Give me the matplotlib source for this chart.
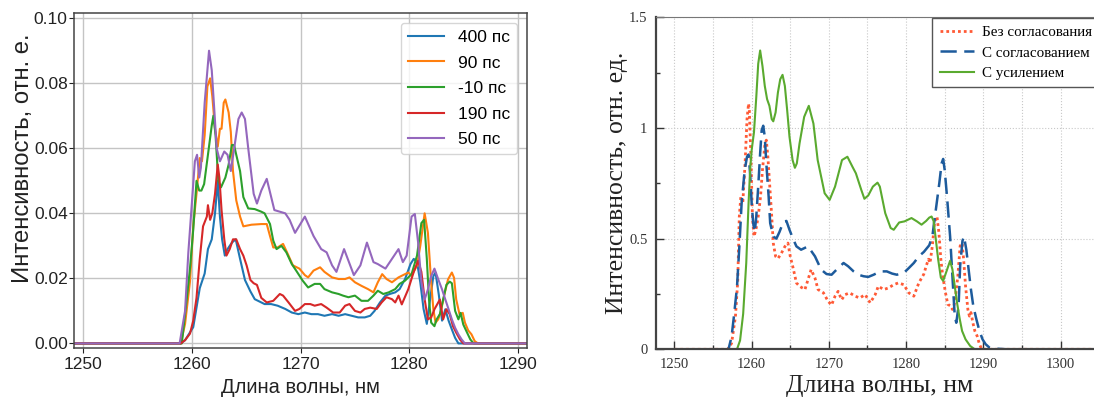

# Two spectra panels: delay scan (left) and matching / gain comparison (right)

import matplotlib
matplotlib.use("Agg")
import matplotlib.pyplot as plt
from matplotlib.ticker import FormatStrFormatter

# ---------------------------------------------------------------------------
# Left panel data (wavelength, nm / intensity, arb. units)

left_labels = ["400 пс", "90 пс", "-10 пс", "190 пс", "50 пс"]
left_colors = ["#1f77b4", "#ff7f0e", "#2ca02c", "#d62728", "#9467bd"]

x_400 = [1249, 1259.0, 1259.4, 1260.15, 1260.45, 1260.75, 1261.2, 1261.5, 1261.85, 1262.15,
         1262.4, 1262.6, 1262.8, 1263.05, 1263.3, 1263.7, 1264.05, 1264.45, 1264.9, 1265.4,
         1265.8, 1266.7, 1267.3, 1267.9, 1268.6, 1269.2, 1269.8, 1270.4, 1271.0, 1271.6,
         1272.2, 1272.9, 1273.5, 1274.1, 1274.7, 1275.3, 1275.9, 1276.4, 1276.8, 1277.3,
         1277.8, 1278.2, 1278.7, 1279.1, 1279.6, 1280.1, 1280.4, 1280.7, 1281.0, 1281.3,
         1281.6, 1281.9, 1282.2, 1282.4, 1282.7, 1283.0, 1283.3, 1283.6, 1283.9, 1284.2,
         1284.5, 1291]
y_400 = [0, 0, 0.001, 0.005, 0.011, 0.017, 0.0215, 0.029, 0.032, 0.040,
         0.050, 0.039, 0.032, 0.027, 0.029, 0.031, 0.032, 0.026, 0.0195, 0.016,
         0.0136, 0.0121, 0.0121, 0.0116, 0.0106, 0.0095, 0.009, 0.0095, 0.009, 0.009,
         0.0085, 0.009, 0.0085, 0.009, 0.0085, 0.008, 0.008, 0.0085, 0.010, 0.0126,
         0.0147, 0.0152, 0.0157, 0.0167, 0.0198, 0.0244, 0.026, 0.025, 0.0188, 0.0106,
         0.006, 0.0135, 0.0207, 0.0218, 0.015, 0.007, 0.0105, 0.007, 0.0043, 0.0017,
         0, 0]

x_90 = [1249, 1259.0, 1259.4, 1259.85, 1260.15, 1260.45, 1260.75, 1260.95, 1261.2, 1261.45,
        1261.7, 1261.9, 1262.15, 1262.4, 1262.6, 1262.75, 1262.95, 1263.1, 1263.4, 1263.6,
        1263.8, 1264.1, 1264.45, 1264.75, 1265.5, 1266.4, 1266.9, 1267.2, 1267.5, 1267.9,
        1268.4, 1268.9, 1269.3, 1269.9, 1270.4, 1270.7, 1271.2, 1271.8, 1272.2, 1272.9,
        1273.5, 1274.1, 1274.5, 1275.0, 1275.6, 1276.2, 1276.7, 1277.1, 1277.5, 1277.9,
        1278.4, 1279.0, 1279.6, 1279.9, 1280.2, 1280.7, 1281.0, 1281.4, 1281.7, 1282.0,
        1282.2, 1282.4, 1282.65, 1282.9, 1283.25, 1283.55, 1283.9, 1284.1, 1284.3, 1284.6,
        1284.9, 1285.1, 1285.4, 1285.7, 1286.0, 1286.3, 1291]
y_90 = [0, 0, 0.006, 0.019, 0.036, 0.046, 0.057, 0.056, 0.064, 0.079,
        0.0815, 0.076, 0.066, 0.0605, 0.066, 0.066, 0.074, 0.075, 0.071, 0.065,
        0.053, 0.044, 0.039, 0.036, 0.0365, 0.0367, 0.0367, 0.033, 0.0295, 0.0295,
        0.0306, 0.027, 0.024, 0.023, 0.021, 0.0203, 0.0224, 0.0234, 0.022, 0.0203,
        0.0198, 0.0198, 0.0203, 0.0188, 0.0177, 0.0167, 0.0157, 0.0188, 0.0213, 0.0198,
        0.0188, 0.0203, 0.0213, 0.0218, 0.0208, 0.024, 0.030, 0.040, 0.034, 0.0187,
        0.0105, 0.0064, 0.0074, 0.010, 0.0156, 0.0197, 0.0218, 0.0202, 0.0135, 0.009,
        0.0094, 0.0064, 0.004, 0.0028, 0.0007, 0, 0]

x_m10 = [1249, 1259.1, 1259.5, 1259.85, 1260.15, 1260.45, 1260.7, 1260.9, 1261.15, 1261.5,
         1261.85, 1262.0, 1262.2, 1262.45, 1262.7, 1263.1, 1263.4, 1263.7, 1263.9, 1264.1,
         1264.45, 1264.75, 1265.2, 1265.8, 1266.4, 1266.7, 1267.2, 1267.5, 1267.8, 1268.25,
         1268.7, 1269.2, 1269.6, 1270.2, 1270.7, 1271.3, 1271.8, 1272.2, 1272.9, 1273.5,
         1273.9, 1274.4, 1275.0, 1275.6, 1276.2, 1276.7, 1277.1, 1277.6, 1278.1, 1278.7,
         1279.1, 1279.6, 1280.2, 1280.7, 1281.1, 1281.35, 1281.6, 1281.8, 1282.0, 1282.3,
         1282.5, 1282.8, 1283.1, 1283.4, 1283.7, 1283.9, 1284.2, 1284.5, 1284.7, 1284.95,
         1285.3, 1285.6, 1285.9, 1291]
y_m10 = [0, 0, 0.012, 0.023, 0.035, 0.050, 0.047, 0.047, 0.049, 0.058,
         0.067, 0.070, 0.064, 0.050, 0.048, 0.051, 0.055, 0.061, 0.061, 0.058,
         0.053, 0.045, 0.0415, 0.0413, 0.0405, 0.040, 0.0367, 0.0316, 0.029, 0.030,
         0.028, 0.0244, 0.0224, 0.0193, 0.0172, 0.0183, 0.0183, 0.0167, 0.0157, 0.0152,
         0.0147, 0.0142, 0.0147, 0.0131, 0.0131, 0.0147, 0.0162, 0.0152, 0.0157, 0.0167,
         0.0183, 0.0193, 0.0213, 0.027, 0.037, 0.038, 0.026, 0.0135, 0.0064, 0.0053,
         0.0074, 0.009, 0.0135, 0.018, 0.019, 0.0185, 0.010, 0.0074, 0.0094, 0.0058,
         0.0033, 0.0012, 0, 0]

x_190 = [1249, 1259.0, 1259.4, 1259.85, 1260.15, 1260.45, 1260.75, 1261.05, 1261.4, 1261.5,
         1261.7, 1261.9, 1262.15, 1262.4, 1262.55, 1262.75, 1263.0, 1263.2, 1263.5, 1263.8,
         1264.1, 1264.45, 1264.75, 1265.05, 1265.4, 1265.7, 1266.0, 1266.4, 1266.9, 1267.5,
         1268.1, 1268.4, 1268.9, 1269.5, 1269.9, 1270.4, 1270.9, 1271.3, 1271.9, 1272.4,
         1273.0, 1273.6, 1274.1, 1274.5, 1275.0, 1275.5, 1275.9, 1276.4, 1277.0, 1277.45,
         1277.9, 1278.4, 1278.7, 1279.0, 1279.3, 1279.9, 1280.4, 1280.8, 1281.1, 1281.4,
         1281.7, 1282.0, 1282.3, 1282.8, 1283.1, 1283.4, 1283.7, 1284.0, 1284.3, 1284.65,
         1284.95, 1291]
y_190 = [0, 0, 0.001, 0.003, 0.007, 0.014, 0.026, 0.036, 0.039, 0.0425,
         0.038, 0.040, 0.046, 0.055, 0.051, 0.041, 0.032, 0.027, 0.029, 0.032,
         0.032, 0.029, 0.027, 0.024, 0.0195, 0.0185, 0.018, 0.014, 0.0126, 0.0131,
         0.0152, 0.0147, 0.0126, 0.010, 0.0106, 0.0121, 0.0121, 0.0116, 0.0121, 0.011,
         0.0095, 0.0095, 0.0116, 0.0121, 0.010, 0.0095, 0.0106, 0.011, 0.0106, 0.0126,
         0.0142, 0.0136, 0.0126, 0.0147, 0.012, 0.0167, 0.022, 0.0254, 0.022, 0.0136,
         0.0074, 0.008, 0.0105, 0.0135, 0.0074, 0.0105, 0.009, 0.0053, 0.0033, 0.0012,
         0, 0]

x_50 = [1249, 1258.9, 1259.4, 1259.7, 1260.0, 1260.3, 1260.5, 1260.7, 1260.85, 1261.2,
        1261.6, 1261.85, 1262.1, 1262.3, 1262.6, 1263.0, 1263.3, 1263.6, 1264.0, 1264.3,
        1264.6, 1264.9, 1265.2, 1265.7, 1266.0, 1266.4, 1266.9, 1267.6, 1268.6, 1269.0,
        1269.5, 1270.4, 1271.2, 1271.9, 1272.4, 1272.9, 1273.3, 1274.0, 1274.9, 1275.5,
        1276.1, 1276.7, 1277.1, 1277.8, 1278.4, 1279.0, 1279.4, 1279.75, 1280.2, 1280.5,
        1280.8, 1281.1, 1281.4, 1281.7, 1282.0, 1282.3, 1282.65, 1283.0, 1283.3, 1283.6,
        1283.9, 1284.2, 1284.5, 1284.8, 1285.1, 1291]
y_50 = [0, 0, 0.010, 0.028, 0.042, 0.056, 0.058, 0.051, 0.054, 0.074,
        0.090, 0.084, 0.071, 0.060, 0.056, 0.059, 0.058, 0.053, 0.062, 0.069,
        0.071, 0.069, 0.060, 0.046, 0.043, 0.047, 0.0506, 0.041, 0.040, 0.038,
        0.034, 0.039, 0.033, 0.029, 0.028, 0.024, 0.022, 0.029, 0.021, 0.024,
        0.031, 0.025, 0.0244, 0.023, 0.026, 0.029, 0.025, 0.027, 0.039, 0.0398,
        0.031, 0.019, 0.0135, 0.0166, 0.0207, 0.023, 0.0197, 0.0166, 0.0135, 0.0105,
        0.0074, 0.0048, 0.0028, 0.0012, 0, 0]

left_x = [x_400, x_90, x_m10, x_190, x_50]
left_y = [y_400, y_90, y_m10, y_190, y_50]

left_xticks = [1250, 1260, 1270, 1280, 1290]
left_yticks = [0.00, 0.02, 0.04, 0.06, 0.08, 0.10]

# ---------------------------------------------------------------------------
# Right panel data

right_labels = ["Без согласования", "С согласованием", "С усилением"]

x_nomatch = [1250, 1256.9, 1257.4, 1257.9, 1258.2, 1258.4, 1258.6, 1258.85, 1259.15, 1259.4,
             1259.6, 1259.7, 1259.9, 1260.1, 1260.3, 1260.55, 1260.85, 1261.15, 1261.4, 1261.7,
             1261.9, 1262.1, 1262.35, 1262.6, 1262.8, 1263.1, 1263.4, 1263.85, 1264.3, 1264.7,
             1265.0, 1265.35, 1265.8, 1266.2, 1266.9, 1267.3, 1267.7, 1268.2, 1268.6, 1269.3,
             1269.9, 1270.35, 1270.8, 1271.2, 1271.65, 1272.1, 1272.7, 1273.4, 1274.0, 1274.7,
             1275.35, 1276.0, 1276.4, 1277.1, 1277.7, 1278.4, 1279.0, 1279.7, 1280.35, 1281.0,
             1281.65, 1282.3, 1282.6, 1282.9, 1283.1, 1283.4, 1283.7, 1284.0, 1284.25, 1284.5,
             1284.75, 1285.1, 1285.4, 1285.76, 1286.0, 1286.2, 1286.4, 1286.7, 1287.0, 1287.25,
             1287.45, 1287.7, 1288.0, 1288.2, 1288.4, 1288.65, 1288.9, 1289.2, 1289.5, 1289.8,
             1306]
y_nomatch = [0, 0, 0.027, 0.148, 0.31, 0.60, 0.69, 0.66, 0.84, 1.04,
             1.11, 1.08, 0.87, 0.60, 0.51, 0.54, 0.60, 0.69, 0.81, 0.92,
             0.945, 0.87, 0.735, 0.60, 0.48, 0.42, 0.41, 0.434, 0.464, 0.48,
             0.42, 0.37, 0.30, 0.285, 0.27, 0.315, 0.36, 0.322, 0.27, 0.255,
             0.217, 0.20, 0.24, 0.262, 0.224, 0.247, 0.255, 0.24, 0.232, 0.247,
             0.21, 0.247, 0.285, 0.27, 0.277, 0.292, 0.30, 0.292, 0.255, 0.24,
             0.30, 0.34, 0.376, 0.407, 0.39, 0.467, 0.58, 0.60, 0.527, 0.407,
             0.33, 0.256, 0.203, 0.196, 0.18, 0.196, 0.24, 0.33, 0.467, 0.48,
             0.407, 0.286, 0.18, 0.15, 0.166, 0.12, 0.083, 0.06, 0.023, 0,
             0]

x_match = [1250, 1257.0, 1257.4, 1257.7, 1258.1, 1258.4, 1258.7, 1259.1, 1259.4, 1259.6,
           1259.8, 1260.0, 1260.2, 1260.4, 1260.6, 1260.85, 1261.1, 1261.3, 1261.5, 1261.7,
           1261.9, 1262.2, 1262.4, 1262.8, 1263.2, 1263.6, 1264.1, 1264.5, 1264.9, 1265.35,
           1265.8, 1266.4, 1267.3, 1268.2, 1269.0, 1269.7, 1270.35, 1271.0, 1271.9, 1272.5,
           1273.2, 1273.8, 1274.5, 1275.1, 1275.8, 1276.65, 1277.5, 1278.2, 1278.8, 1279.7,
           1280.35, 1281.0, 1281.65, 1282.3, 1283.0, 1283.4, 1283.85, 1284.3, 1284.6, 1284.8,
           1285.0, 1285.3, 1285.7, 1286.0, 1286.3, 1286.5, 1286.8, 1287.0, 1287.3, 1287.5,
           1287.8, 1288.1, 1288.4, 1288.7, 1289.1, 1289.5, 1289.9, 1290.3, 1290.85, 1291.7,
           1293, 1306]
y_match = [0, 0, 0.057, 0.148, 0.28, 0.46, 0.66, 0.81, 0.87, 0.88,
           0.795, 0.66, 0.57, 0.53, 0.60, 0.735, 0.885, 0.99, 1.01, 0.96,
           0.84, 0.69, 0.57, 0.51, 0.50, 0.53, 0.575, 0.58, 0.54, 0.50,
           0.465, 0.45, 0.465, 0.42, 0.36, 0.34, 0.337, 0.36, 0.39, 0.375,
           0.352, 0.337, 0.33, 0.327, 0.337, 0.352, 0.352, 0.342, 0.337, 0.345,
           0.367, 0.39, 0.42, 0.44, 0.47, 0.51, 0.63, 0.75, 0.84, 0.86,
           0.81, 0.69, 0.51, 0.33, 0.15, 0.12, 0.196, 0.376, 0.49, 0.51,
           0.45, 0.36, 0.27, 0.196, 0.136, 0.083, 0.045, 0.023, 0.006, 0.003,
           0, 0]

x_gain = [1250, 1258.1, 1258.5, 1258.9, 1259.3, 1259.6, 1259.8, 1260.0, 1260.3, 1260.6,
          1260.85, 1261.1, 1261.4, 1261.7, 1262.0, 1262.3, 1262.6, 1262.8, 1263.1, 1263.4,
          1263.7, 1264.0, 1264.3, 1264.6, 1264.9, 1265.3, 1265.6, 1265.85, 1266.2, 1266.8,
          1267.4, 1268.0, 1268.55, 1269.45, 1270.1, 1270.8, 1271.7, 1272.4, 1273.05, 1273.5,
          1274.2, 1274.6, 1275.1, 1275.7, 1276.3, 1276.6, 1277.3, 1278.0, 1278.4, 1279.1,
          1279.8, 1280.7, 1281.4, 1282.0, 1282.6, 1283.0, 1283.3, 1283.56, 1283.85, 1284.15,
          1284.5, 1284.8, 1285.25, 1285.7, 1286.0, 1286.3, 1286.6, 1286.95, 1287.25, 1287.7,
          1288.3, 1288.9, 1306]
y_gain = [0, 0, 0.04, 0.16, 0.39, 0.66, 0.81, 0.90, 0.98, 1.14,
          1.29, 1.35, 1.28, 1.19, 1.13, 1.10, 1.04, 1.03, 1.07, 1.16,
          1.22, 1.24, 1.19, 1.08, 0.96, 0.855, 0.82, 0.84, 0.93, 1.05,
          1.10, 1.02, 0.855, 0.705, 0.675, 0.735, 0.855, 0.87, 0.825, 0.795,
          0.72, 0.68, 0.695, 0.735, 0.753, 0.735, 0.615, 0.548, 0.54, 0.573,
          0.578, 0.593, 0.578, 0.563, 0.58, 0.595, 0.60, 0.58, 0.497, 0.407,
          0.324, 0.309, 0.354, 0.40, 0.361, 0.286, 0.21, 0.136, 0.083, 0.045,
          0.015, 0, 0]

right_xticks = [1250, 1260, 1270, 1280, 1290, 1300]
right_xtick_labels = ["1250", "1260", "1270", "1280", "1290", "1300"]
right_xminor = [1255, 1265, 1275, 1285, 1295, 1305]
right_yticks = [0, 0.5, 1.0, 1.5]
right_ytick_labels = ["0", "0.5", "1", "1.5"]
right_yminor = [0.25, 0.75, 1.25]

# ---------------------------------------------------------------------------
# Figure

W, H = 1094, 399
fig = plt.figure(figsize=(W / 100, H / 100), dpi=100)

# Left panel (pixel box: left 74, right 527, top 13, bottom 348)
sans = "Liberation Sans"
ax1 = fig.add_axes([74 / W, (H - 348.3) / H, (527 - 74) / W, (348.3 - 13.3) / H])
for xs, ys, label, color in zip(left_x, left_y, left_labels, left_colors):
    ax1.plot(xs, ys, color=color, lw=1.5, label=label)

ax1.set_xlim(1249.2, 1290.8)
ax1.set_ylim(-0.0015, 0.1015)
ax1.set_xticks(left_xticks)
ax1.set_yticks(left_yticks)
ax1.yaxis.set_major_formatter(FormatStrFormatter("%.2f"))
ax1.grid(True, color="#c4c4c4", lw=1.0)
ax1.set_axisbelow(True)
for spine in ax1.spines.values():
    spine.set_color("#444444")
    spine.set_linewidth(1.1)
ax1.tick_params(labelsize=12.5, length=3.5, colors="#222222")
ax1.tick_params(axis="x", pad=3)
ax1.tick_params(axis="y", pad=1)
for lab in ax1.get_xticklabels() + ax1.get_yticklabels():
    lab.set_fontfamily(sans)
ax1.set_xlabel("Длина волны, нм", fontsize=14.5, family=sans, color="#222222", labelpad=4)
ax1.set_ylabel("Интенсивность, отн. е.", fontsize=17.2, family=sans, color="#222222")
ax1.yaxis.set_label_coords(-0.088, 0.568)
ax1.legend(loc="upper right", prop={"family": sans, "size": 12.5}, handlelength=2.1,
           labelspacing=0.6, borderaxespad=0.55)

# Right panel (pixel box: left 656, top 17.3, bottom 349.3, runs past the right edge)
serif = "Liberation Serif"
ax2 = fig.add_axes([655.9 / W, (H - 349.3) / H, (1103 - 655.9) / W, (349.3 - 17.3) / H])
ax2.plot(x_nomatch, y_nomatch, color="#ff5a36", lw=2.0, linestyle=(0, (1.0, 1.1)),
         label=right_labels[0])
ax2.plot(x_match, y_match, color="#1d5b9c", lw=1.8, linestyle=(0, (6.5, 3.0)),
         label=right_labels[1])
ax2.plot(x_gain, y_gain, color="#5aaa2f", lw=1.5, label=right_labels[2])

ax2.set_xlim(1247.6, 1305.5)
ax2.set_ylim(0, 1.5)
ax2.set_xticks(right_xticks, right_xtick_labels, fontfamily=serif, fontsize=10.5, color="#333333")
ax2.set_xticks(right_xminor, minor=True)
ax2.set_yticks(right_yticks, right_ytick_labels, fontfamily=serif, fontsize=10.5, color="#333333")
ax2.set_yticks(right_yminor, minor=True)
ax2.tick_params(which="both", direction="in", width=1.0, color="#333333")
ax2.tick_params(which="major", length=6, pad=6)
ax2.tick_params(which="minor", length=3)
ax2.grid(axis="x", which="both", ls=":", color="#c8c8c8", lw=0.8)
ax2.grid(axis="y", which="major", ls=":", color="#c8c8c8", lw=0.8)
ax2.set_axisbelow(True)
ax2.spines["left"].set_linewidth(1.6)
ax2.spines["left"].set_color("#444444")
ax2.spines["bottom"].set_linewidth(1.6)
ax2.spines["bottom"].set_color("#444444")
ax2.spines["top"].set_linewidth(0.8)
ax2.spines["top"].set_color("#777777")
ax2.spines["right"].set_visible(False)

ax2.set_xlabel("Длина волны, нм", fontsize=18.5, family=serif, color="#222222", labelpad=3)
ax2.set_ylabel("Интенсивность, отн. ед.", fontsize=18.5, family=serif, color="#222222")
ax2.yaxis.set_label_coords(-0.062, 0.5)

leg = ax2.legend(loc="upper left", bbox_to_anchor=(932 / W, 1 - 18.3 / H),
                 bbox_transform=fig.transFigure, prop={"family": serif, "size": 10.8},
                 handlelength=2.3, handletextpad=0.5, labelspacing=0.45, borderpad=0.5,
                 borderaxespad=0, fancybox=False, framealpha=1.0)
leg.get_frame().set_edgecolor("#555555")
leg.get_frame().set_linewidth(1.0)

fig.savefig("out.png", dpi=100)
